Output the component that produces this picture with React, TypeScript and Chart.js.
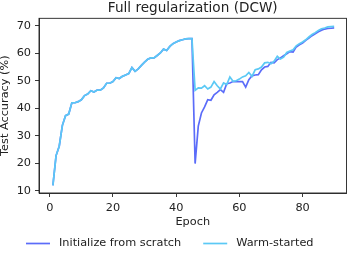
import React, { useEffect, useRef } from "react";
import { Chart, registerables } from "chart.js";

Chart.register(...registerables);

const TITLE = "Full regularization (DCW)";
const X_LABEL = "Epoch";
const Y_LABEL = "Test Accuracy (%)";
const SERIES_NAMES = ["Initialize from scratch", "Warm-started"];
const X_TICKS = [0, 20, 40, 60, 80];
const Y_TICKS = [10, 20, 30, 40, 50, 60, 70];

const EPOCHS = Array.from({ length: 90 }, (_, i) => i + 1);

// Shared phase (epochs 1-45)
const SHARED = [
  12.0, 22.8, 26.2, 33.8, 37.3, 37.9, 42.0, 42.0, 42.4, 43.1,
  44.6, 45.2, 46.4, 45.9, 46.6, 46.6, 47.4, 49.1, 49.1, 49.7,
  51.1, 50.8, 51.6, 52.1, 52.6, 54.8, 53.4, 54.3, 55.6, 56.8,
  57.8, 58.3, 58.3, 59.2, 60.1, 61.5, 61.0, 62.5, 63.5, 64.1,
  64.6, 64.9, 65.2, 65.3, 65.3,
];

// Epochs 46-90
const SCRATCH_TAIL = [
  19.9, 33.5, 38.3, 40.5, 43.1, 42.9, 44.9, 45.8, 46.8, 45.8,
  48.9, 49.2, 49.7, 49.7, 49.7, 49.7, 47.7, 50.4, 51.8, 52.1,
  52.2, 54.0, 55.0, 55.2, 56.7, 56.5, 57.7, 58.3, 59.1, 59.8,
  60.6, 60.4, 62.3, 63.1, 63.7, 64.7, 65.5, 66.4, 67.1, 67.8,
  68.4, 68.8, 69.0, 69.1, 69.2,
];

const WARM_TAIL = [
  46.5, 47.4, 47.3, 48.2, 47.0, 47.7, 49.7, 48.2, 47.0, 49.2,
  48.6, 51.4, 49.8, 50.0, 50.6, 51.4, 51.8, 53.0, 51.6, 54.0,
  54.3, 55.0, 56.5, 56.7, 56.2, 57.1, 58.9, 57.9, 58.6, 60.3,
  60.8, 61.3, 62.7, 63.5, 64.1, 64.9, 65.9, 66.8, 67.5, 68.3,
  68.9, 69.2, 69.6, 69.7, 69.8,
];

const SCRATCH = [...SHARED, ...SCRATCH_TAIL];
const WARM = [...SHARED, ...WARM_TAIL];

const COLORS = ["#5B6CF9", "#5BC9F5"];
const FONT = "'DejaVu Sans', sans-serif";
const TEXT = "#222222";
const FS = 11.3;

const boxPlugin = {
  id: "boxPlugin",
  afterDraw(chart: any) {
    const { ctx, chartArea } = chart;
    ctx.save();
    ctx.strokeStyle = TEXT;
    ctx.lineWidth = 0.9;
    ctx.strokeRect(chartArea.left, chartArea.top, chartArea.right - chartArea.left, chartArea.bottom - chartArea.top);
    ctx.restore();
  },
};

const legendPlugin = {
  id: "bottomLegend",
  afterDraw(chart: any) {
    const ctx = chart.ctx;
    ctx.save();
    ctx.font = `${FS}px ${FONT}`;
    ctx.textBaseline = "middle";
    ctx.textAlign = "left";
    const y = 243.5;
    let x = 26;
    chart.data.datasets.forEach((ds: any) => {
      ctx.strokeStyle = ds.borderColor;
      ctx.lineWidth = 1.7;
      ctx.beginPath();
      ctx.moveTo(x, y);
      ctx.lineTo(x + 24, y);
      ctx.stroke();
      ctx.fillStyle = TEXT;
      ctx.fillText(ds.label, x + 33, y);
      x += 33 + ctx.measureText(ds.label).width + 22;
    });
    ctx.restore();
  },
};

export default function App() {
  const ref = useRef<HTMLCanvasElement>(null);

  useEffect(() => {
    if (!ref.current) return;
    const mk = (vals: number[]) => EPOCHS.map((e, i) => ({ x: e, y: vals[i] }));
    const chart = new Chart(ref.current, {
      type: "line",
      data: {
        datasets: [
          {
            label: SERIES_NAMES[0],
            data: mk(SCRATCH),
            borderColor: COLORS[0],
            backgroundColor: COLORS[0],
            borderWidth: 1.7,
            pointRadius: 0,
            tension: 0,
            order: 1,
          },
          {
            label: SERIES_NAMES[1],
            data: mk(WARM),
            borderColor: COLORS[1],
            backgroundColor: COLORS[1],
            borderWidth: 1.7,
            pointRadius: 0,
            tension: 0,
            order: 0,
          },
        ],
      },
      options: {
        responsive: false,
        animation: false,
        layout: { padding: { left: 0, right: 2.5, top: 0, bottom: 27 } },
        plugins: {
          legend: { display: false },
          tooltip: { enabled: false },
          title: {
            display: true,
            fullSize: false,
            text: TITLE,
            color: TEXT,
            font: { family: FONT, size: 13.6, weight: "normal" },
            padding: { top: 0, bottom: 2 },
          },
        },
        scales: {
          x: {
            type: "linear",
            min: -3.4,
            max: 93.9,
            afterBuildTicks: (s: any) => {
              s.ticks = X_TICKS.map((v) => ({ value: v }));
            },
            afterFit: (s: any) => {
              s.height = 36;
            },
            ticks: {
              color: TEXT,
              font: { family: FONT, size: FS },
              padding: 4,
              maxRotation: 0,
            },
            grid: { drawOnChartArea: false, drawTicks: true, tickLength: 4, color: TEXT, lineWidth: 0.9 },
            border: { display: true, color: TEXT, width: 0.9 },
            title: {
              display: true,
              text: X_LABEL,
              color: TEXT,
              font: { family: FONT, size: FS },
              padding: { top: 0, bottom: 0 },
            },
          },
          y: {
            type: "linear",
            min: 9.2,
            max: 72.7,
            afterBuildTicks: (s: any) => {
              s.ticks = Y_TICKS.map((v) => ({ value: v }));
            },
            afterFit: (s: any) => {
              s.width = 39;
            },
            ticks: {
              color: TEXT,
              font: { family: FONT, size: FS },
              padding: 4,
            },
            grid: { drawOnChartArea: false, drawTicks: true, tickLength: 4, color: TEXT, lineWidth: 0.9 },
            border: { display: true, color: TEXT, width: 0.9 },
            title: {
              display: true,
              text: Y_LABEL,
              color: TEXT,
              font: { family: FONT, size: FS },
              padding: { top: -1.5, bottom: 0 },
            },
          },
        },
      },
      plugins: [boxPlugin, legendPlugin],
    });
    return () => chart.destroy();
  }, []);

  return (
    <div style={{ position: "fixed", left: 0, top: 0, width: 349, height: 256, background: "#fff" }}>
      <canvas ref={ref} width={349} height={256} style={{ width: 349, height: 256 }} />
    </div>
  );
}
